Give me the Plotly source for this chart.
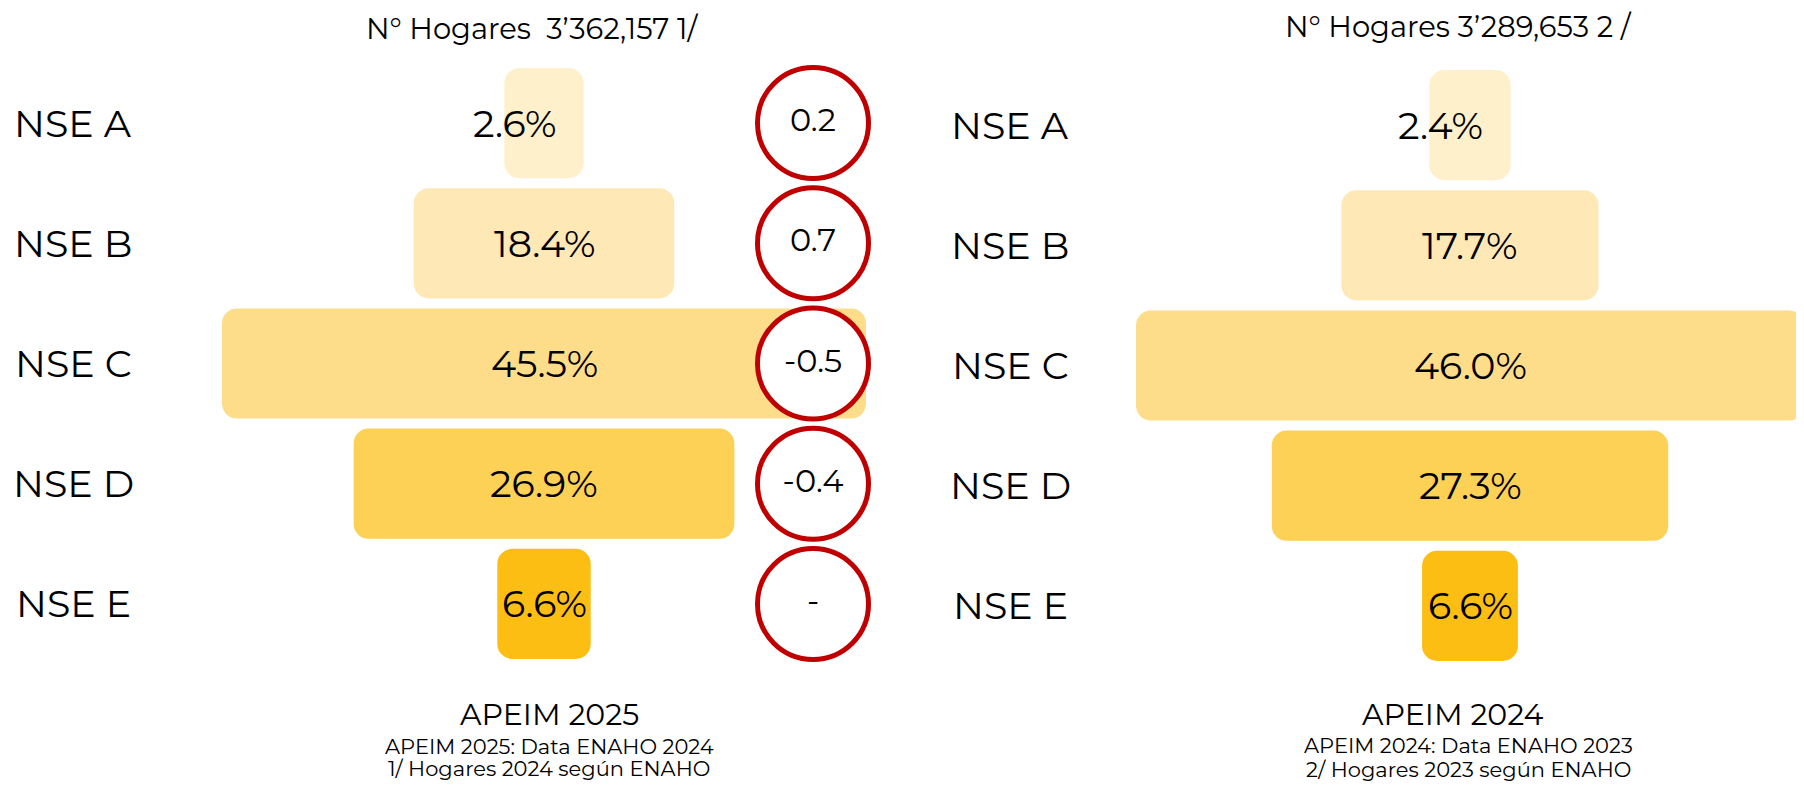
import plotly.graph_objects as go

# ---------------- data ----------------
categories = ["NSE A", "NSE B", "NSE C", "NSE D", "NSE E"]
apeim_2025 = [2.6, 18.4, 45.5, 26.9, 6.6]
apeim_2024 = [2.4, 17.7, 46.0, 27.3, 6.6]
bar_colors = ["#FFF0CC", "#FEE9B6", "#FDDD89", "#FDD056", "#FCBE13"]

header_2025 = "N° Hogares\u00a0\u00a03’362,157 1/"
header_2024 = "N° Hogares 3’289,653 2 /"
title_2025 = "APEIM 2025"
title_2024 = "APEIM 2024"
notes_2025 = ["APEIM 2025: Data ENAHO 2024", "1/ Hogares 2024 según ENAHO"]
notes_2024 = ["APEIM 2024: Data ENAHO 2023", "2/ Hogares 2023 según ENAHO"]

# change 2025 vs 2024 (percentage points)
deltas = [round(a - b, 1) for a, b in zip(apeim_2025, apeim_2024)]
delta_text = ["-" if d == 0 else f"{d:g}" for d in deltas]

# page body has an 8px margin; figure is sized/positioned to compensate
OFF = 8
W, H = 1804 - OFF, 785 - OFF
FONT = "Montserrat, 'Open Sans', sans-serif"
MIN_W = 5.6  # minimum drawn width so the tiny bars can host their label


def px(x):
    return (x - OFF) / W


def py(y):
    return 1 - (y - OFF) / H


def disp(vals):
    return [max(v, MIN_W) for v in vals]


fig = go.Figure()

for vals, xa, ya in [(apeim_2025, "x", "y"), (apeim_2024, "x2", "y2")]:
    w = disp(vals)
    fig.add_trace(go.Bar(
        orientation="h", y=categories, x=w, base=[-v / 2 for v in w],
        marker=dict(color=bar_colors, cornerradius=15, line=dict(width=0)),
        xaxis=xa, yaxis=ya, hoverinfo="skip", showlegend=False,
    ))

# circles with change values
fig.add_trace(go.Scatter(
    x=[0] * len(categories), y=categories, mode="markers+text",
    text=delta_text, textposition="middle center",
    textfont=dict(family=FONT, size=32, color="#000000"),
    marker=dict(symbol="circle", size=111, color="#FFFFFF",
                line=dict(color="#C00000", width=5)),
    xaxis="x3", yaxis="y", hoverinfo="skip", showlegend=False, cliponaxis=False,
))

annotations = []
# value labels inside bars
for vals, xa, ya in [(apeim_2025, "x", "y"), (apeim_2024, "x2", "y2")]:
    for i, (c, v) in enumerate(zip(categories, vals)):
        annotations.append(dict(
            x=0, y=c, xref=xa, yref=ya, text=f"{v:.1f}%", showarrow=False,
            xanchor="center", yanchor="middle",
            xshift=-30 if i == 0 else 0,
            font=dict(family=FONT, size=38, color="#000000"),
        ))
# row labels
for c in categories:
    annotations.append(dict(x=px(73), y=c, xref="paper", yref="y", text=c,
                            showarrow=False, xanchor="center", yanchor="middle",
                            font=dict(family=FONT, size=38, color="#000000")))
    annotations.append(dict(x=px(1010), y=c, xref="paper", yref="y2", text=c,
                            showarrow=False, xanchor="center", yanchor="middle",
                            font=dict(family=FONT, size=38, color="#000000")))

# headers
annotations.append(dict(x=px(532), y=py(28), xref="paper", yref="paper",
                        text=header_2025, showarrow=False,
                        xanchor="center", yanchor="middle",
                        font=dict(family=FONT, size=29, color="#000000")))
annotations.append(dict(x=px(1458), y=py(27), xref="paper", yref="paper",
                        text=header_2024, showarrow=False,
                        xanchor="center", yanchor="middle",
                        font=dict(family=FONT, size=29, color="#000000")))

# footers
for title, notes, cx_t, cx_n, yt, yn in [
    (title_2025, notes_2025, 549, 549, 714, (746, 768)),
    (title_2024, notes_2024, 1453, 1468, 714, (745, 769)),
]:
    annotations.append(dict(x=px(cx_t), y=py(yt), xref="paper", yref="paper",
                            text=title, showarrow=False,
                            xanchor="center", yanchor="middle",
                            font=dict(family=FONT, size=30, color="#000000")))
    for n, yy in zip(notes, yn):
        annotations.append(dict(x=px(cx_n), y=py(yy), xref="paper", yref="paper",
                                text=n, showarrow=False,
                                xanchor="center", yanchor="middle",
                                font=dict(family=FONT, size=21, color="#000000")))

hidden = dict(visible=False, showgrid=False, zeroline=False, fixedrange=True)

fig.update_layout(
    width=W, height=H, margin=dict(l=0, r=0, t=0, b=0),
    paper_bgcolor="white", plot_bgcolor="rgba(0,0,0,0)",
    bargap=10 / 120, showlegend=False,
    xaxis=dict(domain=[px(222), px(866)], range=[-22.75, 22.75], anchor="y", **hidden),
    xaxis2=dict(domain=[px(1136), 1], range=[-23, 23], anchor="y2", **hidden),
    xaxis3=dict(domain=[px(757), px(869)], range=[-1, 1], anchor="y", **hidden),
    yaxis=dict(domain=[py(664), py(63)], type="category", range=[4.5, -0.5],
               autorange=False, anchor="x", **hidden),
    yaxis2=dict(domain=[py(666), py(65)], type="category", range=[4.5, -0.5],
                autorange=False, anchor="x2", **hidden),
    annotations=annotations,
)

fig.write_html("out.html")
